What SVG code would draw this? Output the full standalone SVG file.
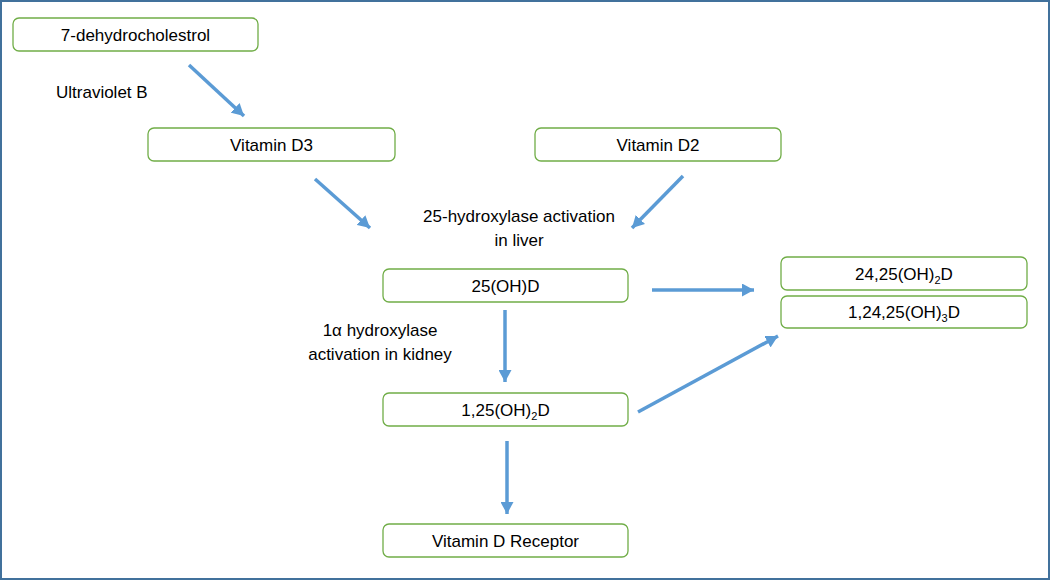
<svg xmlns="http://www.w3.org/2000/svg" width="1050" height="580" viewBox="0 0 1050 580">
<style>
.n rect{fill:#fff;stroke:#70AD47;stroke-width:1.3}
text{font-family:"Liberation Sans","Open Sans",sans-serif;font-size:17px;fill:#000}
.n text{text-anchor:middle}
.c line{stroke:#5B9BD5;stroke-width:3.5;marker-end:url(#ah)}
</style>
<defs>
<marker id="ah" markerUnits="userSpaceOnUse" viewBox="0 0 12 13" refX="12" refY="6.5" markerWidth="12" markerHeight="13" orient="auto">
<path d="M0,0 L12,6.5 L0,13 Z" fill="#5B9BD5"/>
</marker>
</defs>
<rect x="1" y="1" width="1048" height="578" fill="#fff" stroke="#41719C" stroke-width="2"/>
<g class="c">
<line x1="189" y1="65" x2="244" y2="116"/>
<line x1="315" y1="179" x2="370" y2="228"/>
<line x1="683" y1="176" x2="632" y2="228"/>
<line x1="652" y1="290" x2="754" y2="290"/>
<line x1="505" y1="310" x2="505" y2="382"/>
<line x1="507" y1="441" x2="507" y2="514"/>
<line x1="638" y1="412" x2="778" y2="336"/>
</g>
<g id="n1" class="n"><rect x="13" y="18" width="245" height="33" rx="6"/><text x="135.5" y="41">7-dehydrocholestrol</text></g>
<g id="n2" class="n"><rect x="148" y="128" width="247" height="33" rx="6"/><text x="271.5" y="151">Vitamin D3</text></g>
<g id="n3" class="n"><rect x="535" y="128" width="246" height="33" rx="6"/><text x="658" y="151">Vitamin D2</text></g>
<g id="n4" class="n"><rect x="383" y="269" width="245" height="33" rx="6"/><text x="505.5" y="292">25(OH)D</text></g>
<g id="n5" class="n"><rect x="781" y="257" width="246" height="33" rx="6"/><text x="904" y="280">24,25(OH)<tspan font-size="11" dy="4">2</tspan><tspan dy="-4">D</tspan></text></g>
<g id="n6" class="n"><rect x="781" y="296" width="246" height="32" rx="6"/><text x="904" y="318">1,24,25(OH)<tspan font-size="11" dy="4">3</tspan><tspan dy="-4">D</tspan></text></g>
<g id="n7" class="n"><rect x="383" y="393" width="245" height="33" rx="6"/><text x="505.5" y="416">1,25(OH)<tspan font-size="11" dy="4">2</tspan><tspan dy="-4">D</tspan></text></g>
<g id="n8" class="n"><rect x="383" y="524" width="245" height="33" rx="6"/><text x="505.5" y="547">Vitamin D Receptor</text></g>
<g id="labels">
<text x="56" y="98">Ultraviolet B</text>
<text x="519" y="222" text-anchor="middle">25-hydroxylase activation</text>
<text x="519" y="246" text-anchor="middle">in liver</text>
<text x="380" y="336" text-anchor="middle">1α hydroxylase</text>
<text x="380" y="360" text-anchor="middle">activation in kidney</text>
</g>
</svg>
